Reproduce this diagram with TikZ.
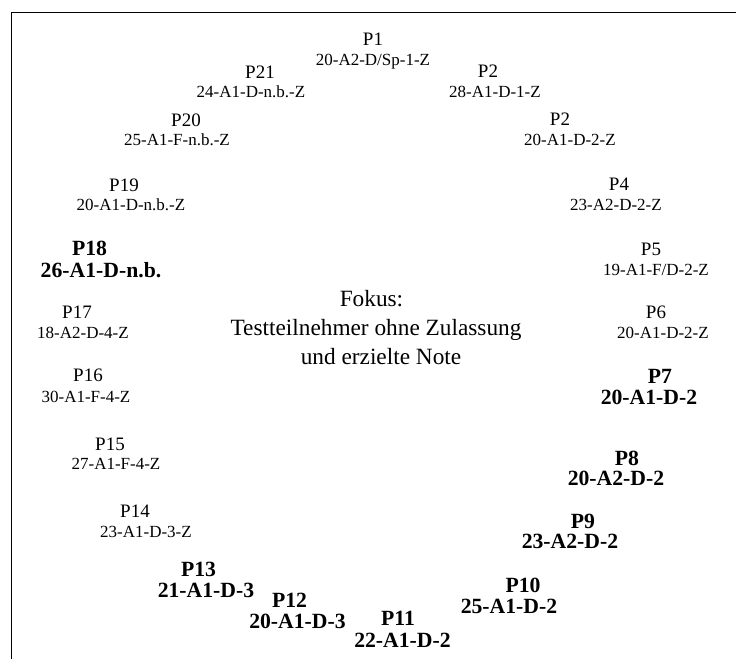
\documentclass[tikz,border=0pt]{standalone}
\usepackage{fontspec}
\setmainfont{Liberation Serif}
\begin{document}
\begin{tikzpicture}[x=1pt,y=-1pt,
  every node/.style={inner sep=0pt,anchor=base},
  lab/.style={font=\fontsize{19}{22}\selectfont},
  code/.style={font=\fontsize{17}{20}\selectfont},
  blab/.style={font=\fontsize{21.7}{24}\selectfont\bfseries},
  bcode/.style={font=\fontsize{21.7}{24}\selectfont\bfseries},
  focus/.style={font=\fontsize{23.3}{28}\selectfont},
  frame/.style={draw=black,line width=1pt}]
\useasboundingbox (0,0) rectangle (736,659);
\coordinate (ftl) at (11,12);
\coordinate (ftr) at (736,12);
\coordinate (fbl) at (11,659);
\draw[frame] (ftr) -- (ftl) -- (fbl);
% regular
\node[lab]  (p1)  at (373,45)  {P1};
\node[code] (c1)  at (373,65)  {20-A2-D/Sp-1-Z};
\node[lab]  (p2a) at (488,77)  {P2};
\node[code] (c2a) at (495,97)  {28-A1-D-1-Z};
\node[lab]  (p2b) at (560,125) {P2};
\node[code] (c2b) at (570,145) {20-A1-D-2-Z};
\node[lab]  (p4)  at (619,190) {P4};
\node[code] (c4)  at (616,210) {23-A2-D-2-Z};
\node[lab]  (p5)  at (651,255) {P5};
\node[code] (c5)  at (656,275) {19-A1-F/D-2-Z};
\node[lab]  (p6)  at (656,318) {P6};
\node[code] (c6)  at (663,338) {20-A1-D-2-Z};
\node[lab]  (p21) at (260,78)  {P21};
\node[code] (c21) at (251,97)  {24-A1-D-n.b.-Z};
\node[lab]  (p20) at (186,126) {P20};
\node[code] (c20) at (177,145) {25-A1-F-n.b.-Z};
\node[lab]  (p19) at (124,191) {P19};
\node[code] (c19) at (131,210) {20-A1-D-n.b.-Z};
\node[lab]  (p17) at (77,318)  {P17};
\node[code] (c17) at (83,338)  {18-A2-D-4-Z};
\node[lab]  (p16) at (88,381)  {P16};
\node[code] (c16) at (86,402)  {30-A1-F-4-Z};
\node[lab]  (p15) at (110,450) {P15};
\node[code] (c15) at (116,469) {27-A1-F-4-Z};
\node[lab]  (p14) at (135,517) {P14};
\node[code] (c14) at (146,537) {23-A1-D-3-Z};
% bold
\node[blab]  (p18) at (89.5,255) {P18};
\node[bcode] (c18) at (101,277)  {26-A1-D-n.b.};
\node[blab]  (p7)  at (660,383)  {P7};
\node[bcode] (c7)  at (649,404)  {20-A1-D-2};
\node[blab]  (p8)  at (627,465)  {P8};
\node[bcode] (c8)  at (616,485)  {20-A2-D-2};
\node[blab]  (p9)  at (583,528)  {P9};
\node[bcode] (c9)  at (570,548)  {23-A2-D-2};
\node[blab]  (p10) at (523,592)  {P10};
\node[bcode] (c10) at (509,613)  {25-A1-D-2};
\node[blab]  (p11) at (398,625)  {P11};
\node[bcode] (c11) at (402.5,647) {22-A1-D-2};
\node[blab]  (p12) at (289.5,607) {P12};
\node[bcode] (c12) at (297.5,628) {20-A1-D-3};
\node[blab]  (p13) at (198.5,576) {P13};
\node[bcode] (c13) at (206,597)  {21-A1-D-3};
% focus
\node[focus] (f1) at (371.5,306) {Fokus:};
\node[focus] (f2) at (376,335)   {Testteilnehmer ohne Zulassung};
\node[focus] (f3) at (381,364)   {und erzielte Note};
\end{tikzpicture}
\end{document}
